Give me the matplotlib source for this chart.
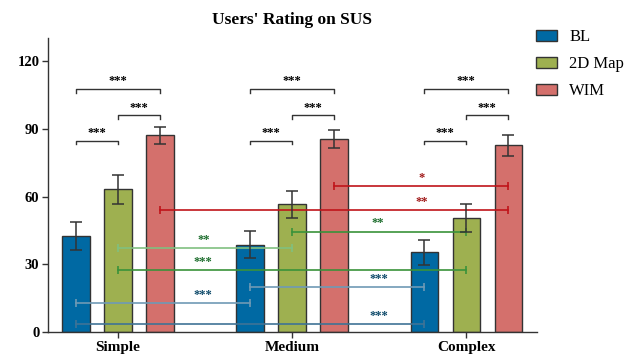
import numpy as np
import matplotlib.pyplot as plt

plt.rcParams["font.family"] = ["Liberation Serif", "DejaVu Serif"]

# ---- data ----
groups = ["Simple", "Medium", "Complex"]
methods = ["BL", "2D Map", "WIM"]
means = {
    "BL":     [42.4, 38.7, 35.3],
    "2D Map": [63.1, 56.6, 50.4],
    "WIM":    [87.1, 85.4, 82.6],
}
errs = {
    "BL":     [6.2, 6.0, 5.5],
    "2D Map": [6.4, 5.9, 6.1],
    "WIM":    [3.8, 4.0, 4.5],
}
# within-group brackets: (method_a, method_b, height, label)
brackets = [("BL", "2D Map", 84.5, "***"),
            ("2D Map", "WIM", 95.8, "***"),
            ("BL", "WIM", 107.4, "***")]
# across-group comparisons: (method, group_a, group_b, y, label, star x between groups)
cross = [
    ("BL",     0, 1, 12.9, "***", 0.49),
    ("BL",     0, 2, 3.5,  "***", 1.5),
    ("BL",     1, 2, 19.8, "***", 1.5),
    ("2D Map", 0, 1, 37.4, "**",  0.49),
    ("2D Map", 0, 2, 27.5, "***", 0.49),
    ("2D Map", 1, 2, 44.5, "**",  1.49),
    ("WIM",    0, 2, 53.9, "**",  1.745),
    ("WIM",    1, 2, 64.5, "*",   1.745),
]

COLORS = {"BL": "#0069a3", "2D Map": "#9eb050", "WIM": "#d4706c"}
LINE_COLORS = {
    ("BL", 0, 1): "#6f9ab5", ("BL", 0, 2): "#3f7396", ("BL", 1, 2): "#6f9ab5",
    ("2D Map", 0, 1): "#80c080", ("2D Map", 0, 2): "#3a923a", ("2D Map", 1, 2): "#3a923a",
    ("WIM", 0, 2): "#c0141a", ("WIM", 1, 2): "#c0141a",
}
STAR_COLORS = {"BL": "#0e4a6a", "2D Map": "#1e6e2e", "WIM": "#a01818"}

fig = plt.figure(figsize=(6.35, 3.56), dpi=100)
ax = fig.add_axes([0.0751, 0.0666, 0.7706, 0.8264])

x = np.arange(len(groups))
step = 0.241
width = 0.157
offs = {m: (i - 1) * step for i, m in enumerate(methods)}

for m in methods:
    ax.bar(x + offs[m], means[m], width, color=COLORS[m], edgecolor="#333333",
           linewidth=1.0, label=m, zorder=2)
    ax.errorbar(x + offs[m], means[m], yerr=errs[m], fmt="none", ecolor="#333333",
                elinewidth=1.1, capsize=4, capthick=1.1, zorder=4)

# within-group significance brackets
for gi in range(len(groups)):
    for a, b, h, lab in brackets:
        xa, xb = x[gi] + offs[a], x[gi] + offs[b]
        ax.plot([xa, xa, xb, xb], [h - 1.5, h, h, h - 1.5], color="#333333",
                lw=1.0, zorder=5)
        ax.text((xa + xb) / 2, h + 3.5, lab, ha="center", va="center",
                fontsize=9, fontweight="bold", color="black")

# across-group comparisons
for m, ga, gb, y, lab, sx in cross:
    xa, xb = x[ga] + offs[m], x[gb] + offs[m]
    c = LINE_COLORS[(m, ga, gb)]
    ax.plot([xa, xb], [y, y], color=c, lw=1.2, zorder=3,
            marker="|", markersize=6, markeredgewidth=1.2)
    ax.text(sx, y + 3.6, lab, ha="center", va="center", fontsize=9,
            fontweight="bold", color=STAR_COLORS[m])

ax.set_xlim(-0.403, 2.406)
ax.set_ylim(0, 130)
ax.set_yticks([0, 30, 60, 90, 120])
ax.set_xticks(x)
ax.set_xticklabels(groups, fontweight="bold", fontsize=11)
for t in ax.get_yticklabels():
    t.set_fontweight("bold")
    t.set_fontsize(10.5)
ax.spines["top"].set_visible(False)
ax.spines["right"].set_visible(False)
for s in ("left", "bottom"):
    ax.spines[s].set_color("#333333")
    ax.spines[s].set_linewidth(1.0)
ax.tick_params(colors="#333333", length=4, width=1.0, labelcolor="black", pad=2)

ax.set_title("Users' Rating on SUS", fontweight="bold", fontsize=12.5, pad=10)

ax.legend(loc="upper left", bbox_to_anchor=(0.998, 1.03), frameon=False,
          fontsize=12, handlelength=1.26, handleheight=0.6, labelspacing=0.66,
          handletextpad=0.72, borderaxespad=0.0, borderpad=0.0)

fig.savefig("out.png", dpi=100)
